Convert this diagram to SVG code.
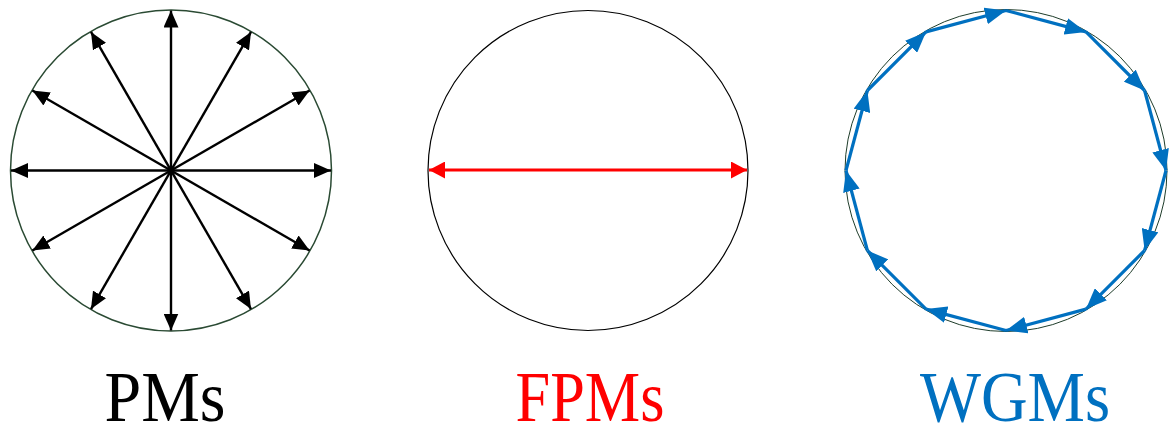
<svg xmlns="http://www.w3.org/2000/svg" width="1173" height="432" viewBox="0 0 1173 432">
<style>
.ring{fill:none}
.blk{stroke:#000;stroke-width:2.4;fill:none;marker-start:url(#hk);marker-end:url(#hk)}
.red{stroke:#ff0000;stroke-width:2.8;fill:none;marker-start:url(#hr);marker-end:url(#hr)}
.blu{stroke:#0070c0;stroke-width:3.2;fill:none;marker-end:url(#hb)}
.lbl{font-family:"Liberation Serif","Times New Roman",serif;font-size:72px;text-anchor:middle}
</style>
<defs>
<marker id="hk" markerUnits="userSpaceOnUse" markerWidth="18" markerHeight="15" refX="17" refY="7.5" orient="auto-start-reverse"><path d="M0,0 L17,7.5 L0,15 z" fill="#000"/></marker>
<marker id="hr" markerUnits="userSpaceOnUse" markerWidth="17" markerHeight="17" refX="16" refY="8.5" orient="auto-start-reverse"><path d="M0,0 L16,8.5 L0,17 z" fill="#ff0000"/></marker>
<marker id="hb" markerUnits="userSpaceOnUse" markerWidth="22" markerHeight="17" refX="21" refY="8.5" orient="auto"><path d="M0,0 L21,8.5 L0,17 z" fill="#0070c0"/></marker>
</defs>
<rect width="1173" height="432" fill="#fff"/>
<g id="pms">
<circle class="ring" cx="171" cy="170.5" r="160.5" stroke="#2a4a33" stroke-width="1.5"/>
<text class="lbl" x="165" y="421" fill="#000" textLength="121" lengthAdjust="spacingAndGlyphs">PMs</text>
</g>
<g id="fpms">
<circle class="ring" cx="588" cy="170.5" r="160" stroke="#000" stroke-width="1.2"/>
<text class="lbl" x="590" y="421" fill="#ff0000" textLength="149" lengthAdjust="spacingAndGlyphs">FPMs</text>
</g>
<g id="wgms">
<circle class="ring" cx="1006" cy="170.5" r="161" stroke="#1f3d2b" stroke-width="1"/>
<text class="lbl" x="1015" y="421" fill="#0070c0" textLength="190" lengthAdjust="spacingAndGlyphs">WGMs</text>
</g>
<g id="connectors">
<line class="blk" x1="331" y1="170.5" x2="11" y2="170.5"/>
<line class="blk" x1="309.6" y1="90.5" x2="32.4" y2="250.5"/>
<line class="blk" x1="251" y1="31.9" x2="91" y2="309.1"/>
<line class="blk" x1="171" y1="10.5" x2="171" y2="330.5"/>
<line class="blk" x1="91" y1="31.9" x2="251" y2="309.1"/>
<line class="blk" x1="32.4" y1="90.5" x2="309.6" y2="250.5"/>
<line class="red" x1="429" y1="170" x2="747" y2="170"/>
<line class="blu" x1="1006" y1="10.5" x2="1086" y2="31.9"/>
<line class="blu" x1="1086" y1="31.9" x2="1144.6" y2="90.5"/>
<line class="blu" x1="1144.6" y1="90.5" x2="1166" y2="170.5"/>
<line class="blu" x1="1166" y1="170.5" x2="1144.6" y2="250.5"/>
<line class="blu" x1="1144.6" y1="250.5" x2="1086" y2="309.1"/>
<line class="blu" x1="1086" y1="309.1" x2="1006" y2="330.5"/>
<line class="blu" x1="1006" y1="330.5" x2="926" y2="309.1"/>
<line class="blu" x1="926" y1="309.1" x2="867.4" y2="250.5"/>
<line class="blu" x1="867.4" y1="250.5" x2="846" y2="170.5"/>
<line class="blu" x1="846" y1="170.5" x2="867.4" y2="90.5"/>
<line class="blu" x1="867.4" y1="90.5" x2="926" y2="31.9"/>
<line class="blu" x1="926" y1="31.9" x2="1006" y2="10.5"/>
</g>
</svg>
